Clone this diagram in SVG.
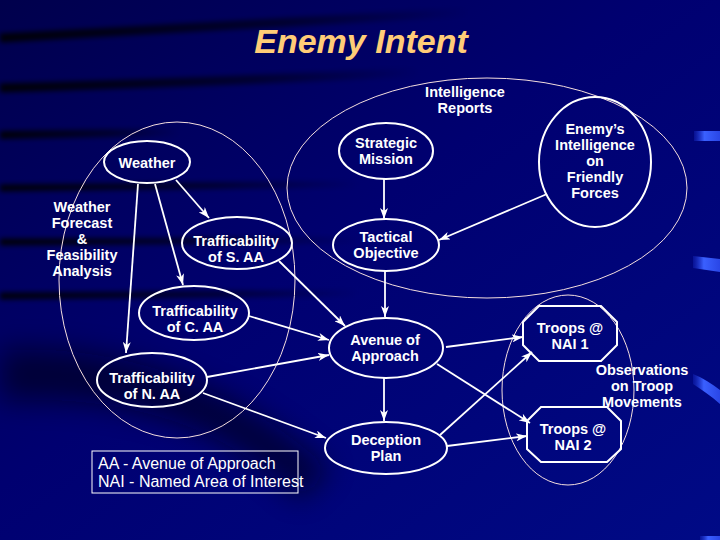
<svg xmlns="http://www.w3.org/2000/svg" width="720" height="540" viewBox="0 0 720 540">
<defs>
<linearGradient id="bg" x1="0" y1="0" x2="1" y2="1">
<stop offset="0" stop-color="#00004c"/>
<stop offset="0.45" stop-color="#000070"/>
<stop offset="1" stop-color="#000a86"/>
</linearGradient>
<linearGradient id="streak" x1="0" y1="0" x2="1" y2="0">
<stop offset="0" stop-color="#000000" stop-opacity="0.9"/>
<stop offset="0.6" stop-color="#000000" stop-opacity="0.5"/>
<stop offset="1" stop-color="#000000" stop-opacity="0"/>
</linearGradient>
<linearGradient id="bar" x1="0" y1="0" x2="1" y2="0">
<stop offset="0" stop-color="#1a2fd0" stop-opacity="0.3"/>
<stop offset="0.4" stop-color="#3a60ff"/>
<stop offset="1" stop-color="#2a46e6"/>
</linearGradient>
<filter id="blur" x="-10%" y="-50%" width="120%" height="200%"><feGaussianBlur stdDeviation="2.5"/></filter>
<filter id="blur2" x="-20%" y="-50%" width="140%" height="200%"><feGaussianBlur stdDeviation="14"/></filter>
<marker id="arr" viewBox="0 0 11 8" refX="11" refY="4" markerWidth="11" markerHeight="8" markerUnits="userSpaceOnUse" orient="auto">
<path d="M0,0 L11,4 L0,8 L3,4 Z" fill="#ffffff"/>
</marker>
<style>
.node{fill:none;stroke:#ffffff;stroke-width:2}
.grp{fill:none;stroke:#f4dede;stroke-width:1}
.t{fill:#ffffff;font-family:"Liberation Sans",Arial,sans-serif;font-weight:bold;font-size:14.5px;text-anchor:middle}
.lg{fill:#ffffff;font-family:"Liberation Sans",Arial,sans-serif;font-size:16px}
.c line{stroke:#ffffff;stroke-width:1.8;marker-end:url(#arr)}
</style>
</defs>

<g id="background">
<rect x="0" y="0" width="720" height="540" fill="url(#bg)"/>
<g filter="url(#blur)" fill="none" stroke="url(#streak)">
<path d="M0,38 C150,30 300,22 470,12" stroke-width="9"/>
<path d="M0,88 C150,84 300,78 420,72" stroke-width="9"/>
<path d="M0,135 C60,134 120,133 180,132" stroke-width="8"/>
<path d="M0,188 C120,186 240,185 360,184" stroke-width="7"/>
<path d="M0,242 C120,241 240,240 360,240" stroke-width="7"/>
<path d="M0,296 C120,295 240,294 360,293" stroke-width="7"/>
</g>
<path d="M0,350 C120,345 230,380 330,470 L300,500 C220,420 120,395 0,400 Z" fill="#000010" opacity="0.55" filter="url(#blur2)"/>
<path d="M694,131 L720,131 L720,141 L694,141 Z" fill="url(#bar)"/>
<path d="M693,256 L720,259 L720,272 L693,268 Z" fill="url(#bar)"/>
<path d="M693,374 C703,378 712,384 720,390 L720,404 C711,396 702,390 693,384 Z" fill="url(#bar)"/>
<path d="M700,536 L720,536 L720,540 L700,540 Z" fill="url(#bar)"/>
</g>

<text x="361" y="53" fill="#ffcc77" font-family="'Liberation Sans',Arial,sans-serif" font-weight="bold" font-style="italic" font-size="34" text-anchor="middle">Enemy Intent</text>

<g id="groups">
<g id="intelligence-reports">
<ellipse class="grp" cx="487" cy="188" rx="200" ry="110"/>
<text class="t" x="465" y="97">Intelligence</text>
<text class="t" x="465" y="113">Reports</text>
</g>
<g id="weather-forecast">
<ellipse class="grp" cx="177" cy="280" rx="118" ry="158"/>
<text class="t" x="82" y="212">Weather</text>
<text class="t" x="82" y="228">Forecast</text>
<text class="t" x="82" y="244">&amp;</text>
<text class="t" x="82" y="260">Feasibility</text>
<text class="t" x="82" y="276">Analysis</text>
</g>
<g id="observations">
<ellipse class="grp" cx="568" cy="390" rx="66" ry="95"/>
<text class="t" x="642" y="375">Observations</text>
<text class="t" x="642" y="391">on Troop</text>
<text class="t" x="642" y="407">Movements</text>
</g>
</g>

<g id="connectors" class="c">
<line x1="176" y1="180" x2="209" y2="218"/>
<line x1="155" y1="184" x2="183" y2="285"/>
<line x1="138" y1="184" x2="126" y2="353"/>
<line x1="384" y1="179" x2="384" y2="219"/>
<line x1="547" y1="194" x2="439" y2="240"/>
<line x1="385" y1="271" x2="385" y2="317"/>
<line x1="279" y1="261" x2="345" y2="326"/>
<line x1="249" y1="316" x2="329" y2="340"/>
<line x1="207" y1="377" x2="329" y2="355"/>
<line x1="203" y1="393" x2="326" y2="438"/>
<line x1="384" y1="378" x2="384" y2="421"/>
<line x1="446" y1="347" x2="523" y2="337"/>
<line x1="437" y1="364" x2="530" y2="423"/>
<line x1="440" y1="435" x2="532" y2="352"/>
<line x1="447" y1="446" x2="527" y2="436"/>
</g>

<g id="weather">
<ellipse class="node" cx="147" cy="162" rx="43" ry="21"/>
<text class="t" x="147" y="168">Weather</text>
</g>
<g id="traff-s">
<ellipse class="node" cx="237" cy="243" rx="55" ry="26"/>
<text class="t" x="236" y="246">Trafficability</text>
<text class="t" x="236" y="262">of S. AA</text>
</g>
<g id="traff-c">
<ellipse class="node" cx="194" cy="313" rx="55" ry="27"/>
<text class="t" x="195" y="316">Trafficability</text>
<text class="t" x="195" y="332">of C. AA</text>
</g>
<g id="traff-n">
<ellipse class="node" cx="152" cy="380" rx="55" ry="27"/>
<text class="t" x="152" y="383">Trafficability</text>
<text class="t" x="152" y="399">of N. AA</text>
</g>
<g id="strategic-mission">
<ellipse class="node" cx="386" cy="151" rx="47" ry="28"/>
<text class="t" x="386" y="148">Strategic</text>
<text class="t" x="386" y="164">Mission</text>
</g>
<g id="enemy-intelligence">
<ellipse class="node" cx="595" cy="162" rx="56" ry="65"/>
<text class="t" x="595" y="134">Enemy’s</text>
<text class="t" x="595" y="150">Intelligence</text>
<text class="t" x="595" y="166">on</text>
<text class="t" x="595" y="182">Friendly</text>
<text class="t" x="595" y="198">Forces</text>
</g>
<g id="tactical-objective">
<ellipse class="node" cx="386" cy="245" rx="53" ry="26"/>
<text class="t" x="386" y="242">Tactical</text>
<text class="t" x="386" y="258">Objective</text>
</g>
<g id="avenue-of-approach">
<ellipse class="node" cx="386" cy="348" rx="57" ry="30"/>
<text class="t" x="385" y="345">Avenue of</text>
<text class="t" x="385" y="361">Approach</text>
</g>
<g id="deception-plan">
<ellipse class="node" cx="386" cy="448" rx="61" ry="26"/>
<text class="t" x="386" y="445">Deception</text>
<text class="t" x="386" y="461">Plan</text>
</g>
<g id="troops-nai1">
<polygon class="node" points="539,306 601,306 617,322 617,345 601,361 539,361 523,345 523,322"/>
<text class="t" x="570" y="333">Troops @</text>
<text class="t" x="570" y="349">NAI 1</text>
</g>
<g id="troops-nai2">
<polygon class="node" points="541,407 607,407 621,421 621,449 607,462 541,462 527,449 527,421"/>
<text class="t" x="573" y="434">Troops @</text>
<text class="t" x="573" y="450">NAI 2</text>
</g>

<g id="legend">
<rect x="92" y="451" width="206" height="42" fill="none" stroke="#ffffff" stroke-width="1"/>
<text class="lg" x="98" y="469">AA - Avenue of Approach</text>
<text class="lg" x="98" y="487">NAI - Named Area of Interest</text>
</g>
</svg>
